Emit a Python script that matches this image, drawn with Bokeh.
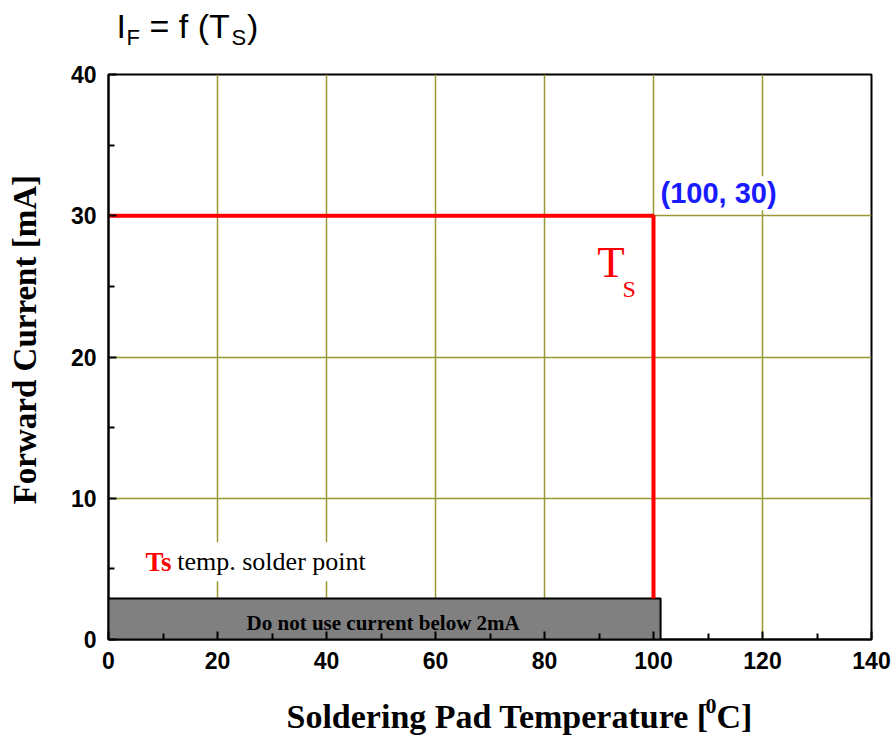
import math
from bokeh.plotting import figure
from bokeh.models import Range1d, Label, FixedTicker
from bokeh.layouts import column, row
from bokeh.core.properties import value
from bokeh.embed import file_html
from bokeh.resources import INLINE

# ---- data ----
x_ticks = [0, 20, 40, 60, 80, 100, 120, 140]
x_minor = [10, 30, 50, 70, 90, 110, 130]
y_ticks = [0, 10, 20, 30, 40]
y_minor = [5, 15, 25, 35]
temps = [0, 100, 100]          # soldering pad temperature [°C]
currents = [30, 30, 2.9]       # forward current [mA]
box_x = [-1, 101.3]            # "do not use" zone (temperature span)
box_y = [-0.5, 2.9]            # "do not use" zone (current span)
point_label = "(100, 30)"
x_title = ["Soldering Pad Temperature [", "0", "C]"]
y_title = "Forward Current [mA]"
main_title = ["I", "F", "= f (T", "S", ")"]

SANS = "Liberation Sans"
SERIF = "Liberation Serif"


def blank(w, h):
    f = figure(width=w, height=h, output_backend="svg", toolbar_location=None,
               x_range=Range1d(0, w), y_range=Range1d(0, h), title=None,
               min_border=0, outline_line_color=None)
    f.axis.visible = False
    f.grid.visible = False
    f.background_fill_color = "white"
    f.border_fill_color = "white"
    return f


def txt(f, x, y, t, size, font=SANS, style="normal", color="black", align="left",
        angle=0):
    f.text(x=[x], y=[y], text=[t], text_font=value(font), text_font_size=value(size),
           text_font_style=style, text_color=color, text_align=align,
           text_baseline="middle", angle=angle)


# ---- title strip (page y 0..60) ----
top = blank(896, 60)
txt(top, 116, 35, main_title[0], "34px")
txt(top, 126, 23, main_title[1], "22px")
txt(top, 149, 35, main_title[2], "34px")
txt(top, 231, 23, main_title[3], "22px")
txt(top, 246.5, 35, main_title[4], "34px")

# ---- y title strip (page y 60..680) ----
left = blank(60, 620)
txt(left, 24, 329, y_title, "33px", font=SERIF, style="bold", align="center",
    angle=math.pi / 2)

# ---- x title strip (page y 680..737) ----
bottom = blank(896, 57)
txt(bottom, 286, 21, x_title[0], "34px", font=SERIF, style="bold")
txt(bottom, 705, 32, x_title[1], "22px", font=SERIF, style="bold")
txt(bottom, 716, 21, x_title[2], "34px", font=SERIF, style="bold")

# ---- main chart ----
p = figure(width=836, height=620, output_backend="svg", toolbar_location=None,
           x_range=Range1d(0, 140), y_range=Range1d(0, 40),
           min_border_left=48, min_border_right=25,
           min_border_top=14, min_border_bottom=41)
p.background_fill_color = "white"
p.border_fill_color = "white"
p.outline_line_color = "black"
p.outline_line_width = 2

for ax in (p.xaxis[0], p.yaxis[0]):
    ax.axis_line_width = 2
    ax.major_tick_in = 8
    ax.major_tick_out = 0
    ax.minor_tick_in = 6
    ax.minor_tick_out = 0
    ax.major_tick_line_width = 2
    ax.minor_tick_line_width = 2
    ax.major_label_text_font = SANS
    ax.major_label_text_font_style = "bold"
    ax.major_label_text_font_size = "23px"
    ax.major_label_text_color = "black"

p.xaxis.ticker = FixedTicker(ticks=x_ticks, minor_ticks=x_minor)
p.yaxis.ticker = FixedTicker(ticks=y_ticks, minor_ticks=y_minor)
p.xaxis.major_label_standoff = 12
p.yaxis.major_label_standoff = 12

p.xgrid.grid_line_color = "#999933"
p.ygrid.grid_line_color = "#999933"
p.xgrid.grid_line_width = 1.5
p.ygrid.grid_line_width = 1.5

# gray zone
p.quad(left=box_x[0], right=box_x[1], bottom=box_y[0], top=box_y[1],
       fill_color="#808080", line_color="black", line_width=2)

# derating line
p.line(temps, currents, line_color="#ff0000", line_width=4)


def lab(x, y, t, size, font=SANS, style="normal", color="black", align="left",
        bg=None, pad=0):
    p.add_layout(Label(x=x, y=y, text=t, text_font=font, text_font_size=size,
                       text_font_style=style, text_color=color, text_align=align,
                       text_baseline="middle", background_fill_color=bg,
                       padding=pad))


lab(101.1, 31.6, point_label, "29px", style="bold", color="#1a1aff", bg="white", pad=1)
lab(89.7, 26.75, "T", "45px", font=SERIF, color="#ff0000")
lab(94.3, 24.8, "S", "24px", font=SERIF, color="#ff0000")
lab(11.7, 5.5, "temp. solder point", "26px", font=SERIF, bg="white", pad=5)
lab(6.8, 5.5, "Ts", "27px", font=SERIF, style="bold", color="#ff0000")
lab(50.4, 1.2, "Do not use current below 2mA", "21px", font=SERIF, style="bold",
    align="center")

layout = column(top, row(left, p), bottom)
open("out.html", "w").write(file_html(layout, INLINE))
